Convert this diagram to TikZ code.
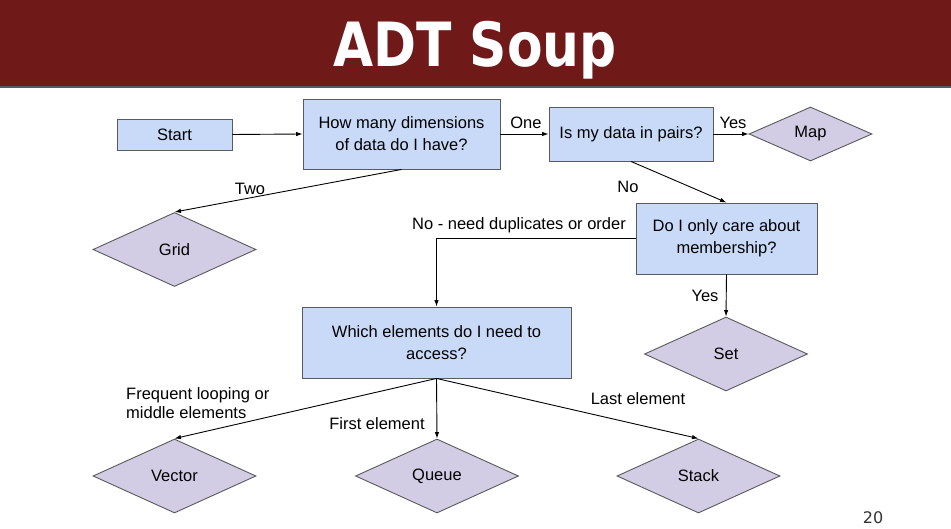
\documentclass[tikz,border=0pt]{standalone}
\usepackage{fontspec}
\setmainfont{Liberation Sans}
\newfontfamily\titlefont{DejaVu Sans}
\usetikzlibrary{shapes.geometric,arrows.meta}
\definecolor{banner}{RGB}{111,25,25}
\definecolor{boxfill}{RGB}{201,218,248}
\definecolor{leaffill}{RGB}{210,205,228}
\definecolor{edgegray}{RGB}{90,90,90}
\tikzset{
  lbl/.style={font=\fontsize{16.5}{19.5}\selectfont, inner sep=0pt},
  qbox/.style={draw=edgegray, fill=boxfill, line width=0.9pt, align=center,
               font=\fontsize{16.5}{22}\selectfont, inner sep=0pt},
  leaf/.style={diamond, draw=edgegray, fill=leaffill, line width=0.9pt,
               minimum width=163pt, minimum height=74pt, inner sep=0pt,
               font=\fontsize{16.5}{19.5}\selectfont},
  link/.style={draw=black, line width=0.9pt, -{Latex[length=6.5pt,width=4.5pt]}}
}
\begin{document}
\begin{tikzpicture}[x=1pt,y=-1pt]
  \useasboundingbox (0,0) rectangle (951,529);
  \fill[white] (0,0) rectangle (951,529);
  % title banner
  \fill[banner] (0,0) rectangle (951,86);
  \fill[edgegray] (0,86) rectangle (951,88.5);
  \node[anchor=base, text=white, inner sep=0pt, xscale=0.85,
        font=\titlefont\bfseries\fontsize{61}{61}\selectfont] (title) at (475,67) {ADT Soup};

  % decision boxes
  \node[qbox, minimum width=115pt, minimum height=31pt] (start) at (174.5,134.5) {Start};
  \node[qbox, minimum width=197pt, minimum height=70pt] (dims) at (401.5,134) {How many dimensions\\of data do I have?};
  \node[qbox, minimum width=164pt, minimum height=54pt] (pairs) at (631,134) {Is my data in pairs?};
  \node[qbox, minimum width=181pt, minimum height=71pt] (member) at (726.5,238.5) {Do I only care about\\membership?};
  \node[qbox, minimum width=269pt, minimum height=71pt] (which) at (436.5,342.5) {Which elements do I need to\\access?};

  % outcomes
  \node[leaf, minimum width=123pt, minimum height=54pt] (map) at (810.5,134) {Map};
  \node[leaf] (grid) at (174.5,249.5) {Grid};
  \node[leaf] (set) at (726,354) {Set};
  \node[leaf] (vector) at (174.5,476) {Vector};
  \node[leaf] (queue) at (437,476) {Queue};
  \node[leaf] (stack) at (698.5,476) {Stack};

  % connectors
  \draw[link] (start.east) -- (dims.west);
  \draw[link] (dims.east) -- (pairs.west);
  \draw[link] (pairs.east) -- (map.west);
  \draw[link] (dims.south) -- (grid.north);
  \draw[link] (pairs.south) -- (member.north);
  \draw[link] (member.west) -| (which.north);
  \draw[link] (member.south) -- (set.north);
  \draw[link] (which.south) -- (vector.north);
  \draw[link] (which.south) -- (queue.north);
  \draw[link] (which.south) -- (stack.north);

  % connector labels
  \node[lbl] (lone) at (526,123) {One};
  \node[lbl] (lyes1) at (733,123) {Yes};
  \node[lbl] (ltwo) at (250,189) {Two};
  \node[lbl] (lno) at (628,187) {No};
  \node[lbl] (ldup) at (519,225) {No - need duplicates or order};
  \node[lbl] (lyes2) at (705,296) {Yes};
  \node[lbl, align=left, anchor=west] (lloop) at (126,403) {Frequent looping or\\middle elements};
  \node[lbl] (lfirst) at (377,424) {First element};
  \node[lbl] (llast) at (638,399) {Last element};

  % page number
  \node[font=\titlefont\fontsize{16}{16}\selectfont, text=black!80, inner sep=0pt] (page) at (873,518) {20};
\end{tikzpicture}
\end{document}
